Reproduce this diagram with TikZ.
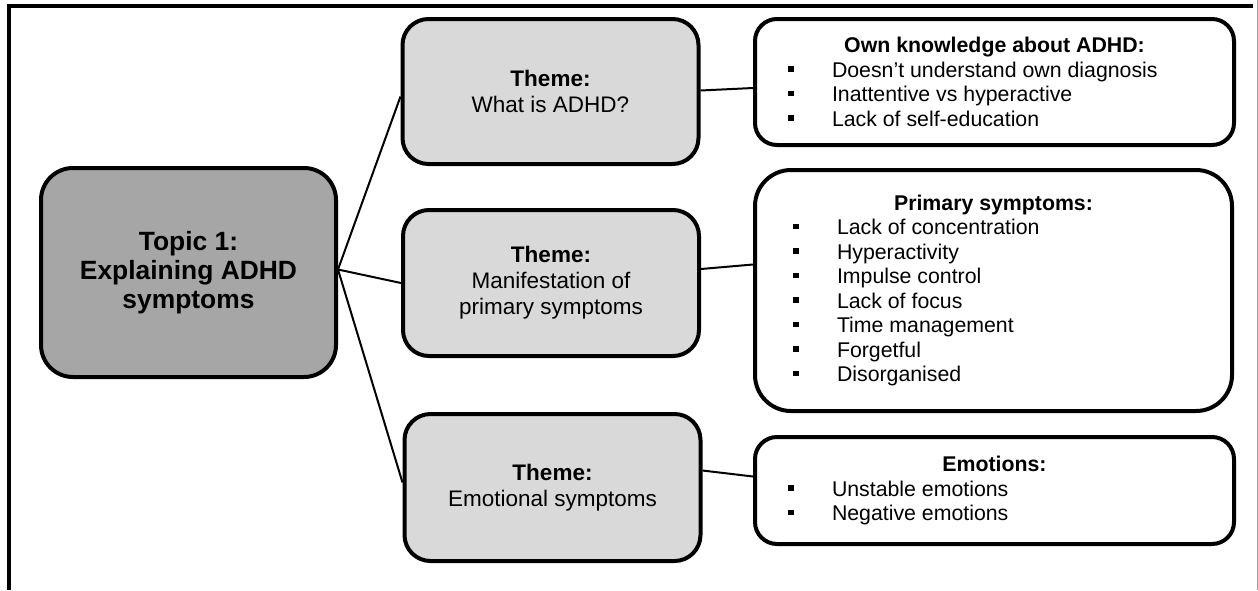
\documentclass[tikz,border=0pt]{standalone}
\usepackage{fontspec}
\setmainfont{Liberation Sans}
\definecolor{topicgray}{HTML}{A6A6A6}
\definecolor{themegray}{HTML}{D9D9D9}
\definecolor{edgegray}{HTML}{A0A0A0}

% list boxes: a centred bold heading followed by square-bulleted lines
\newlength\bulletgap
\newlength\textgap
\newcommand\boxhead[1]{\hbox to\hsize{\hfil\bfseries #1\hfil}}
\newcommand\bulletline[1]{\hbox to\hsize{\hskip\bulletgap\rule[5.5pt]{5.5pt}{5.5pt}\hskip\dimexpr\textgap-\bulletgap-5.5pt\relax #1\hfil}}
\newcommand\listbody[4]{\vbox{\hsize=#1\setlength\bulletgap{#2}\setlength\textgap{#3}#4}}

\begin{document}
\begin{tikzpicture}[x=1pt,y=-1pt,
  boxline/.style={draw=black, line width=4pt, rounded corners=#1},
  boxline/.default=22pt,
  topicbox/.style={boxline=32pt, fill=topicgray, minimum width=295pt, minimum height=209pt,
    inner sep=0pt, align=center, font=\fontsize{26.4}{29}\selectfont\bfseries},
  themebox/.style={boxline=26pt, fill=themegray, minimum width=296pt, inner sep=0pt,
    align=center, font=\fontsize{22.5}{26}\selectfont},
  listbox/.style={boxline=#1, fill=white, minimum width=479pt, inner sep=0pt,
    font=\fontsize{21.3}{24.5}\selectfont},
  listbox/.default=22pt,
  link/.style={draw=black, line width=2pt}]

\useasboundingbox (0,0) rectangle (1258,590);

% page frame
\draw[line width=4pt] (9,590) -- (9,6) -- (1253,6);
\draw[edgegray, line width=1pt] (1257,0) -- (1257,590);

% topic
\node[topicbox] (topic) at (188.5,272.5) {Topic 1:\\Explaining ADHD\\symptoms};

% themes
\node[themebox, minimum height=145pt] (t1) at (550.5,91.5)
  {\textbf{Theme:}\\What is ADHD?};
\node[themebox, minimum height=146pt] (t2) at (551,283)
  {\textbf{Theme:}\\Manifestation of\\primary symptoms};
\node[themebox, minimum height=147pt] (t3) at (552.5,487.5)
  {\textbf{Theme:}\\Emotional symptoms};

% sub-theme lists
\node[listbox, minimum height=126pt] (la) at (994.5,82)
  {\listbody{479pt}{33pt}{77pt}{%
    \boxhead{Own knowledge about ADHD:}
    \bulletline{Doesn’t understand own diagnosis}
    \bulletline{Inattentive vs hyperactive}
    \bulletline{Lack of self-education}}};
\node[listbox=36pt, minimum height=241pt, minimum width=477pt] (lb) at (993.5,290.5)
  {\listbody{477pt}{38pt}{82pt}{%
    \boxhead{Primary symptoms:}
    \bulletline{Lack of concentration}
    \bulletline{Hyperactivity}
    \bulletline{Impulse control}
    \bulletline{Lack of focus}
    \bulletline{Time management}
    \bulletline{Forgetful}
    \bulletline{Disorganised}}};
\node[listbox, minimum height=107pt] (lc) at (994.5,490.5)
  {\listbody{479pt}{33pt}{77pt}{%
    \boxhead{Emotions:}
    \bulletline{Unstable emotions}
    \bulletline{Negative emotions}}};

% connectors
\draw[link] ([yshift=3pt]topic.east) -- ([yshift=-5pt]t1.west);
\draw[link] ([yshift=3pt]topic.east) -- (t2.west);
\draw[link] ([yshift=3pt]topic.east) -- ([yshift=5pt]t3.west);
\draw[link] ([yshift=1pt]t1.east) -- ([yshift=-6pt]la.west);
\draw[link] ([yshift=14pt]t2.east) -- ([yshift=26pt]lb.west);
\draw[link] ([yshift=17pt]t3.east) -- ([yshift=14pt]lc.west);
\end{tikzpicture}
\end{document}
